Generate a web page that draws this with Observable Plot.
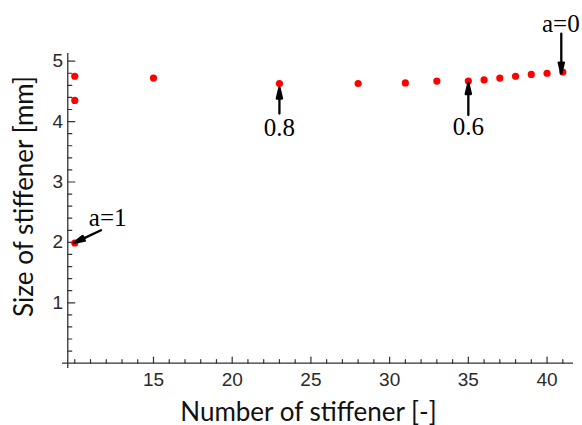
<!DOCTYPE html>
<html>
<head>
<meta charset="utf-8">
<script src="https://cdn.jsdelivr.net/npm/d3@7"></script>
<script src="https://cdn.jsdelivr.net/npm/@observablehq/plot@0.6"></script>
<style>
  html, body { margin: 0; padding: 0; background: #fff; }
</style>
</head>
<body>
<script>
// ---- data ----
const stiffenerCount = [10, 10, 10, 15, 23, 28, 31, 33, 35, 36, 37, 38, 39, 40, 41];
const stiffenerSize  = [4.75, 4.35, 1.99, 4.72, 4.63, 4.63, 4.64, 4.67, 4.67, 4.69, 4.72, 4.75, 4.78, 4.80, 4.82];
const xTickLabels = [15, 20, 25, 30, 35, 40];
const yTickLabels = [1, 2, 3, 4, 5];
const annLabel = ["a=1", "0.8", "0.6", "a=0"];
const annX = [10, 23, 35, 41];
const annY = [1.99, 4.63, 4.67, 4.82];

const points = stiffenerCount.map((x, i) => ({x, y: stiffenerSize[i]}));
const xMinor = d3.range(10, 42).filter(v => !xTickLabels.includes(v));
const yMinor = d3.range(1, 25).map(i => i / 5).filter(v => !yTickLabels.includes(v));

const X0 = 9.555;          // where the vertical axis crosses
const axisColor = "#333";
const line = {draw(c, l) { c.moveTo(0, 0); c.lineTo(0, -l); }};
const arrowShape = {draw(c, l) {
  const hl = 11, hw = 2.6;
  c.moveTo(0, 0); c.lineTo(0, -l + hl);
  c.moveTo(0, -l); c.lineTo(-hw, -l + hl); c.lineTo(hw, -l + hl); c.closePath();
}};

// annotation layout (pixel offsets relative to the pointed dot)
const annLayout = [
  {rotate: 245, length: 30, tdx: -1, tdy: 0,  lx: 14, ly: -17, anchor: "start"},
  {rotate: 0,   length: 26, tdx: 0,  tdy: 4,  lx: 0,  ly: 52,  anchor: "middle"},
  {rotate: 0,   length: 32, tdx: 0,  tdy: 2,  lx: 0,  ly: 54,  anchor: "middle"},
  {rotate: 180, length: 40, tdx: -1.5, tdy: 1.5, lx: -2, ly: -40, anchor: "middle"}
];

const annMarks = annLabel.flatMap((label, i) => {
  const L = annLayout[i];
  const d = [{x: annX[i], y: annY[i], label}];
  return [
    Plot.vector(d, {x: "x", y: "y", rotate: L.rotate, length: L.length, anchor: "end",
      shape: arrowShape, stroke: "black", fill: "black", strokeWidth: 2.3,
      strokeLinejoin: "round", dx: L.tdx, dy: L.tdy}),
    Plot.text(d, {x: "x", y: "y", text: "label", dx: L.lx, dy: L.ly, lineAnchor: "bottom",
      textAnchor: L.anchor, fontSize: 25, fontFamily: "Liberation Serif, Times New Roman, serif", fill: "black"})
  ];
});

const chart = Plot.plot({
  width: 582,
  height: 425,
  marginLeft: 62,
  marginRight: 9,
  marginTop: 53,
  marginBottom: 57,
  x: {domain: [9.22, 41.68], axis: null},
  y: {domain: [-0.088, 5.127], axis: null},
  style: {background: "white", overflow: "visible"},
  marks: [
    // axis lines
    Plot.ruleY([0], {x1: 9.22, x2: 41.68, stroke: axisColor, strokeWidth: 1.3}),
    Plot.ruleX([X0], {y1: -0.088, y2: 5.127, stroke: axisColor, strokeWidth: 1.3}),
    // ticks
    Plot.vector(xTickLabels, {x: d => d, y: 0, length: 6, rotate: 0, anchor: "start", shape: line, stroke: axisColor, strokeWidth: 1.2}),
    Plot.vector(xMinor, {x: d => d, y: 0, length: 3.5, rotate: 0, anchor: "start", shape: line, stroke: axisColor, strokeWidth: 1.2}),
    Plot.vector(yTickLabels, {x: X0, y: d => d, length: 7, rotate: 90, anchor: "start", shape: line, stroke: axisColor, strokeWidth: 1.2}),
    Plot.vector(yMinor, {x: X0, y: d => d, length: 4, rotate: 90, anchor: "start", shape: line, stroke: axisColor, strokeWidth: 1.2}),
    // tick labels
    Plot.text(xTickLabels, {x: d => d, y: 0, text: d => String(d), dy: 23.3, lineAnchor: "bottom",
      fontSize: 19, fontFamily: "Liberation Sans, Arial, sans-serif", fill: "#2a2a2a"}),
    Plot.text(yTickLabels, {x: X0, y: d => d, text: d => String(d), dx: -4.6, textAnchor: "end", lineAnchor: "middle",
      fontSize: 19, fontFamily: "Liberation Sans, Arial, sans-serif", fill: "#2a2a2a"}),
    // axis titles
    Plot.text(["Number of stiffener [-]"], {frameAnchor: "bottom", dx: -9.5, dy: 52, lineAnchor: "bottom",
      textAnchor: "middle", fontSize: 26, fontFamily: "Lato, sans-serif", fill: "#111"}),
    Plot.text(["Size of stiffener [mm]"], {frameAnchor: "left", rotate: -90, dx: -29.3, dy: -14.5, lineAnchor: "bottom",
      textAnchor: "middle", fontSize: 26, fontFamily: "Lato, sans-serif", fill: "#111"}),
    // data
    Plot.dot(points, {x: "x", y: "y", r: 3.6, fill: "#ff0000", stroke: "none"}),
    ...annMarks
  ]
});
document.body.appendChild(chart);
</script>
</body>
</html>
